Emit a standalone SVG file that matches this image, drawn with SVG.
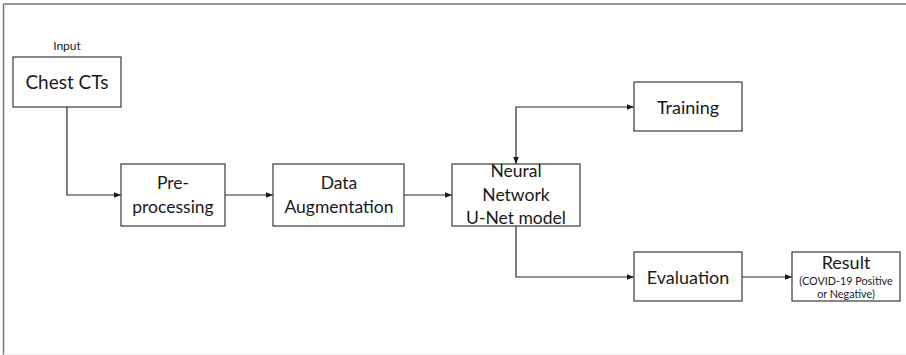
<svg xmlns="http://www.w3.org/2000/svg" width="906" height="355" viewBox="0 0 906 355">
<style>
.box{fill:#fff;stroke:#3a3a3a;stroke-width:1.2}
.t{font-family:Lato,"Open Sans",sans-serif;fill:#1a1a1a;text-anchor:middle}
.c{fill:none;stroke:#2a2a2a;stroke-width:1.2}
</style>
<defs>
<marker id="ah" viewBox="0 0 10 10" refX="10" refY="5" markerWidth="7" markerHeight="7" markerUnits="userSpaceOnUse" orient="auto-start-reverse">
<path d="M0,1 L10,5 L0,9 z" fill="#1a1a1a"/>
</marker>
</defs>
<rect x="0" y="0" width="906" height="355" fill="#fff"/>
<g id="frame">
<line x1="3.5" y1="4" x2="906" y2="4" stroke="#777" stroke-width="1.5"/>
<line x1="3.5" y1="4" x2="3.5" y2="355" stroke="#777" stroke-width="1.5"/>
<line x1="3.5" y1="354.5" x2="906" y2="354.5" stroke="#eee" stroke-width="1"/>
</g>
<g id="connectors">
<path class="c" d="M67,107 V195 H121" marker-end="url(#ah)"/>
<path class="c" d="M225,195 H273" marker-end="url(#ah)"/>
<path class="c" d="M404,195 H452" marker-end="url(#ah)"/>
<path class="c" d="M516,164 V107 H634" marker-start="url(#ah)" marker-end="url(#ah)"/>
<path class="c" d="M516,226 V277 H634" marker-end="url(#ah)"/>
<path class="c" d="M742,277 H792" marker-end="url(#ah)"/>
</g>
<g id="input-label"><text class="t" x="67" y="50" font-size="12">Input</text></g>
<g id="chest-cts">
<rect class="box" x="13" y="57" width="108" height="50"/>
<text class="t" x="67" y="89" font-size="19">Chest CTs</text>
</g>
<g id="preprocessing">
<rect class="box" x="121" y="164" width="104" height="62"/>
<text class="t" x="173" y="189" font-size="17.5">Pre-</text>
<text class="t" x="173" y="213" font-size="17.5">processing</text>
</g>
<g id="data-augmentation">
<rect class="box" x="273" y="164" width="131" height="62"/>
<text class="t" x="339" y="189" font-size="17.5">Data</text>
<text class="t" x="339" y="213" font-size="17.5">Augmentation</text>
</g>
<g id="neural-network">
<rect class="box" x="452" y="164" width="128" height="62"/>
<text class="t" x="516" y="177" font-size="17.5">Neural</text>
<text class="t" x="516" y="201" font-size="17.5">Network</text>
<text class="t" x="516" y="224" font-size="17.5">U-Net model</text>
</g>
<g id="training">
<rect class="box" x="634" y="82" width="108" height="49"/>
<text class="t" x="688" y="114" font-size="18">Training</text>
</g>
<g id="evaluation">
<rect class="box" x="634" y="252" width="108" height="49"/>
<text class="t" x="688" y="284" font-size="18">Evaluation</text>
</g>
<g id="result">
<rect class="box" x="792" y="252" width="108" height="49"/>
<text class="t" x="846" y="269" font-size="18">Result</text>
<text class="t" x="846" y="285" font-size="10.8">(COVID-19 Positive</text>
<text class="t" x="846" y="298" font-size="10.8">or Negative)</text>
</g>
</svg>
